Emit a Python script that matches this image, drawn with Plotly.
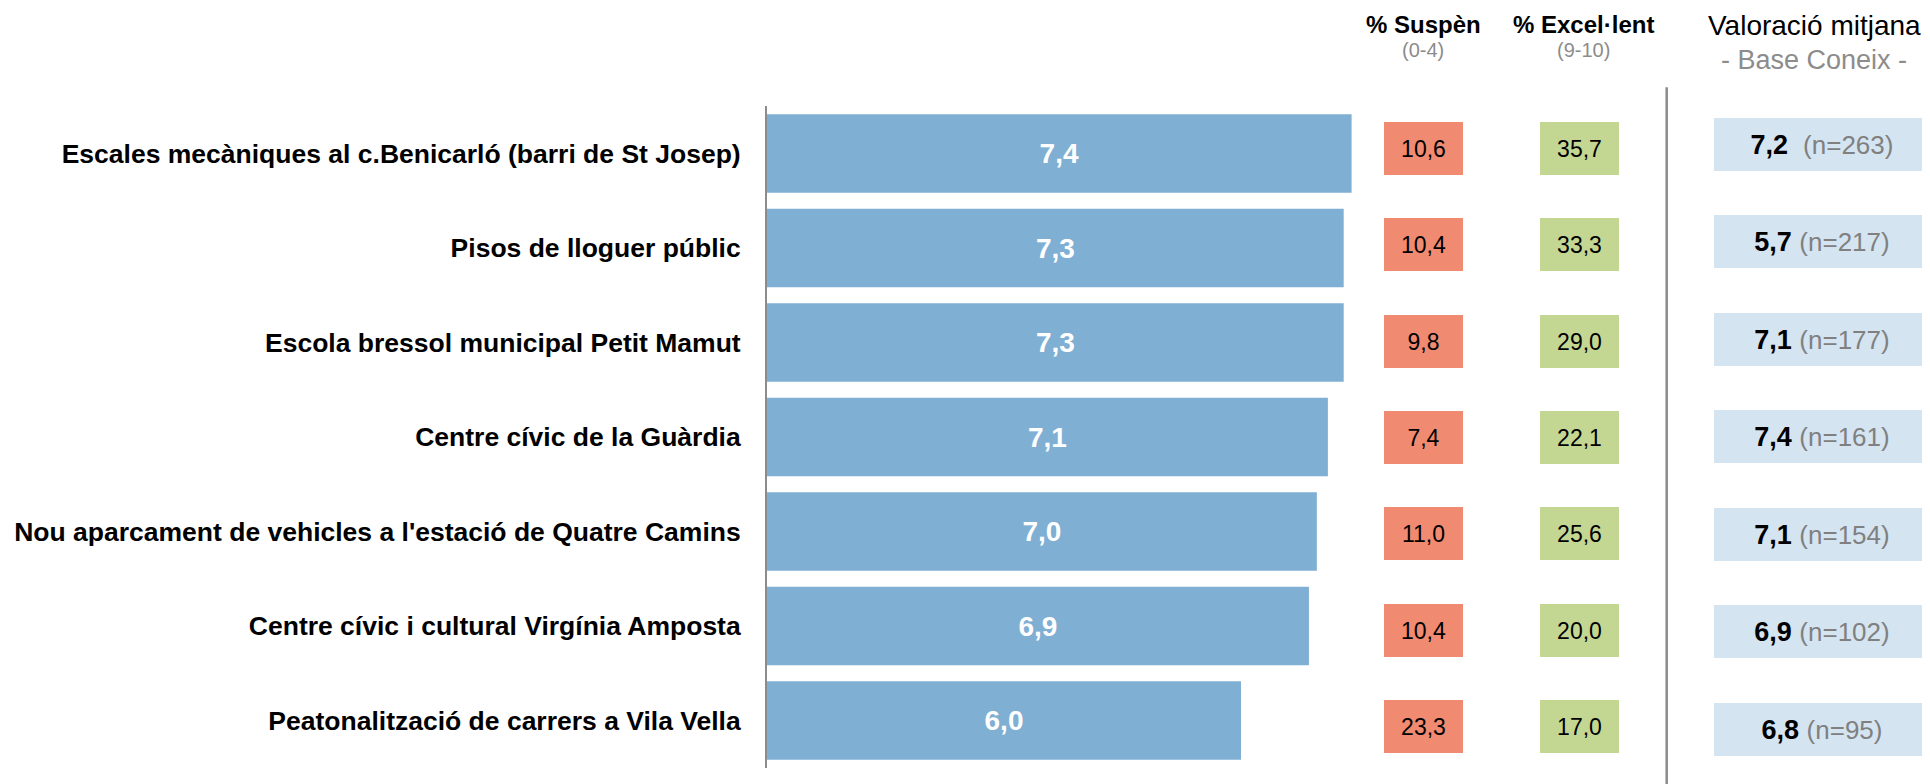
import plotly.graph_objects as go

# ---------------- data ----------------
items = [
    "Escales mecàniques al c.Benicarló (barri de St Josep)",
    "Pisos de lloguer públic",
    "Escola bressol municipal Petit Mamut",
    "Centre cívic de la Guàrdia",
    "Nou aparcament de vehicles a l'estació de Quatre Camins",
    "Centre cívic i cultural Virgínia Amposta",
    "Peatonalització de carrers a Vila Vella",
]
mean_users = [7.4, 7.3, 7.3, 7.1, 6.96, 6.86, 6.0]
pct_suspen = [10.6, 10.4, 9.8, 7.4, 11.0, 10.4, 23.3]
pct_excellent = [35.7, 33.3, 29.0, 22.1, 25.6, 20.0, 17.0]
mean_known = [7.2, 5.7, 7.1, 7.4, 7.1, 6.9, 6.8]
n_known = [263, 217, 177, 161, 154, 102, 95]

header_suspen = "% Suspèn"
sub_suspen = "(0-4)"
header_exc = "% Excel·lent"
sub_exc = "(9-10)"
header_val = "Valoració mitjana"
sub_val = "- Base Coneix -"

# ---------------- style ----------------
OFF = 8                      # default page body margin
W, H = 1930 - OFF, 784 - OFF
FONT = "Liberation Sans, Arial, Helvetica, sans-serif"
BAR = "#7FAFD3"
RED = "#F08A71"
GREEN = "#C4D792"
LBLUE = "#D5E4F1"
GREY = "#8C8C8C"


def fmt(v):
    return f"{v:.1f}".replace(".", ",")


def px(xp):
    return (xp - OFF) / W


def py(yp):
    return 1 - (yp - OFF) / H


def cat_range(c_first, c_last, n):
    pitch = (c_last - c_first) / (n - 1)
    top = -(c_first - OFF) / pitch
    return [top + H / pitch, top]


fig = go.Figure(
    go.Bar(
        x=mean_users,
        y=items,
        orientation="h",
        width=0.83,
        marker=dict(color=BAR, line=dict(width=0)),
        text=[fmt(v) for v in mean_users],
        textposition="inside",
        insidetextanchor="middle",
        textangle=0,
        constraintext="none",
        textfont=dict(color="white", size=28, family=FONT, weight="bold"),
        hoverinfo="skip",
    )
)

annotations = []
for it, s, e in zip(items, pct_suspen, pct_excellent):
    for xc, val, col in ((1423.5, s, RED), (1579.5, e, GREEN)):
        annotations.append(dict(
            x=px(xc), xref="paper", y=it, yref="y2",
            text=fmt(val), showarrow=False, xanchor="center", yanchor="middle",
            bgcolor=col, width=79, height=53, borderpad=0, borderwidth=0,
            font=dict(size=23, color="black", family=FONT),
        ))

for i, (it, m, n) in enumerate(zip(items, mean_known, n_known)):
    sep = "\u00a0\u00a0" if i == 0 else "\u00a0"
    annotations.append(dict(
        x=px(1822), xref="paper", y=it, yref="y3",
        text=f"<b>{fmt(m)}</b>{sep}<span style='color:#808080;font-size:26px'>(n={n})</span>",
        showarrow=False, xanchor="center", yanchor="middle",
        bgcolor=LBLUE, width=216, height=53, borderpad=0, borderwidth=0,
        font=dict(size=27, color="black", family=FONT),
    ))

headers = [
    (1423, 24.5, f"<b>{header_suspen}</b>", 24, "black"),
    (1423, 50, sub_suspen, 20, GREY),
    (1583, 24.5, f"<b>{header_exc}</b>", 24, "black"),
    (1583, 50, sub_exc, 20, GREY),
    (1814, 25, header_val, 28, "black"),
    (1814, 60, sub_val, 27, GREY),
]
for xc, yc, t, sz, col in headers:
    annotations.append(dict(
        x=px(xc), xref="paper", y=py(yc), yref="paper", text=t,
        showarrow=False, xanchor="center", yanchor="middle",
        font=dict(size=sz, color=col, family=FONT),
    ))

fig.update_layout(
    width=W, height=H,
    margin=dict(l=0, r=0, t=0, b=0),
    paper_bgcolor="white", plot_bgcolor="rgba(0,0,0,0)",
    showlegend=False,
    font=dict(family=FONT),
    xaxis=dict(domain=[px(767), px(1375)], range=[0, 608 / 79], visible=False, fixedrange=True),
    yaxis=dict(
        domain=[py(767.75), py(106.25)],
        type="category", categoryorder="array", categoryarray=items,
        range=[6.5, -0.5],
        showline=True, linecolor=GREY, linewidth=2,
        ticks="", showgrid=False, zeroline=False,
        tickfont=dict(size=26.5, color="black", family=FONT, weight="bold"),
        ticklabelstandoff=19,
    ),
    yaxis2=dict(
        domain=[0, 1], anchor="x", type="category", categoryorder="array",
        categoryarray=items, range=cat_range(148.3, 726.7, len(items)), visible=False,
    ),
    yaxis3=dict(
        domain=[0, 1], anchor="x", type="category", categoryorder="array",
        categoryarray=items, range=cat_range(144.0, 729.0, len(items)), visible=False,
    ),
    annotations=annotations,
    shapes=[dict(
        type="line", xref="paper", yref="paper",
        x0=px(1666.7), x1=px(1666.7), y0=0, y1=py(87.3),
        line=dict(color=GREY, width=2.5),
    )],
)

fig.write_html("out.html")
